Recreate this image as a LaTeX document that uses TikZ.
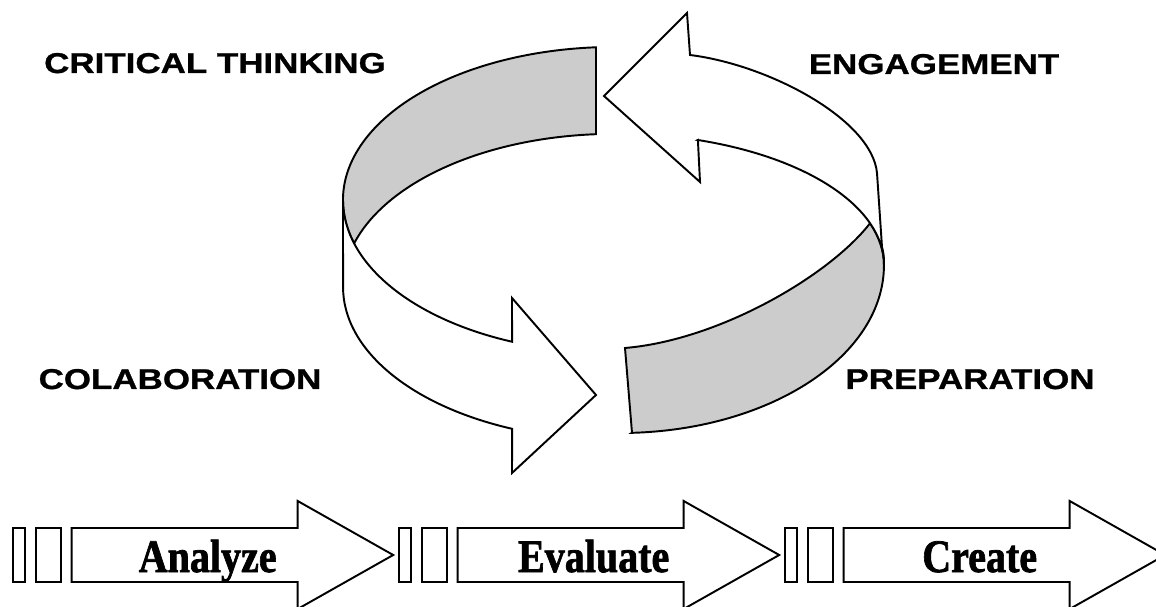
\documentclass[tikz,border=0pt]{standalone}
\usepackage{fontspec}
\newfontfamily\labelfont{Liberation Sans}[BoldFeatures={FakeBold=0.8}]
\newfontfamily\stepfont{Liberation Serif}[BoldFeatures={FakeBold=1.6}]
\definecolor{ribbon}{RGB}{204,204,204}
\newcommand{\widecaps}[1]{\scalebox{1.22}[1]{#1}}
\newcommand{\narrowtext}[1]{\scalebox{0.86}[1]{#1}}
\tikzset{
outline/.style={draw=black, line width=1.1pt, line join=miter}, % every edge of the ribbon
inside/.style={outline, fill=ribbon}, % the grey inner face of the ribbon
outside/.style={outline, fill=white}, % the white outer face
cycle label/.style={font=\labelfont\bfseries\fontsize{16.3}{18}\selectfont, anchor=base},
step label/.style={font=\stepfont\bfseries\fontsize{26.5}{28}\selectfont, anchor=base},
}

\begin{document}
\begin{tikzpicture}[x=0.02cm, y=-0.02cm] % one unit is one pixel, y runs down
        \useasboundingbox (0,0) rectangle (1156,607);

        % inner faces first
        \path[inside] (596,47.3) arc[start angle=266.2, end angle=163.5, x radius=271, y radius=153]
        arc[start angle=196.5, end angle=266.2, x radius=271, y radius=153] -- cycle;
        \path[inside] (632,432.8) -- (625,348) .. controls (720,340) and (830,275) .. (870,223.3)
        arc[start angle=-18.5, end angle=0, x radius=270, y radius=131.5]
        arc[start angle=0, end angle=87.4, x radius=264, y radius=168] -- cycle;

        % outer faces with the arrow heads
        \path[outside] (343,200) arc[start angle=180, end angle=112.1, x radius=271, y radius=153]
        -- (512,298) -- (596,395) -- (512,473) -- (512.1,428.8)
        arc[start angle=112.1, end angle=180, x radius=271, y radius=153] -- cycle;
        \path[outside] (697.9,140) -- (700,182) -- (604,96) -- (687,13) -- (690,55)
        .. controls (770,65) and (872,120) .. (877,173) -- (882,247)
        .. controls (884,254) and (884,260) .. (884,265)
        arc[start angle=0, end angle=-71.9, x radius=270, y radius=131.5] -- cycle;

        \node[cycle label] (critical) at (215,73) {\widecaps{CRITICAL THINKING}};
        \node[cycle label] (engage) at (934,74) {\widecaps{ENGAGEMENT}};
        \node[cycle label] (colab) at (180,389) {\widecaps{COLABORATION}};
        \node[cycle label] (prep) at (970,389) {\widecaps{PREPARATION}};

        % the three steps along the bottom
        \foreach \name [count=\i from 0] in {Analyze, Evaluate, Create} {
          \pgfmathsetmacro\xo{12.7+386*\i}
          \draw[outline] (\xo,528) rectangle ({\xo+12.3},582);
          \draw[outline] ({\xo+23.3},528) rectangle ({\xo+48},582);
          \draw[outside] ({\xo+59},528) -- ({\xo+285},528) -- ({\xo+285},501) -- ({\xo+380.5},555)
          -- ({\xo+285},609) -- ({\xo+285},582) -- ({\xo+59},582) -- cycle;
          \node[step label] (step\i) at ({\xo+195},572) {\narrowtext{\name}};
        }
      \end{tikzpicture}
\end{document}
